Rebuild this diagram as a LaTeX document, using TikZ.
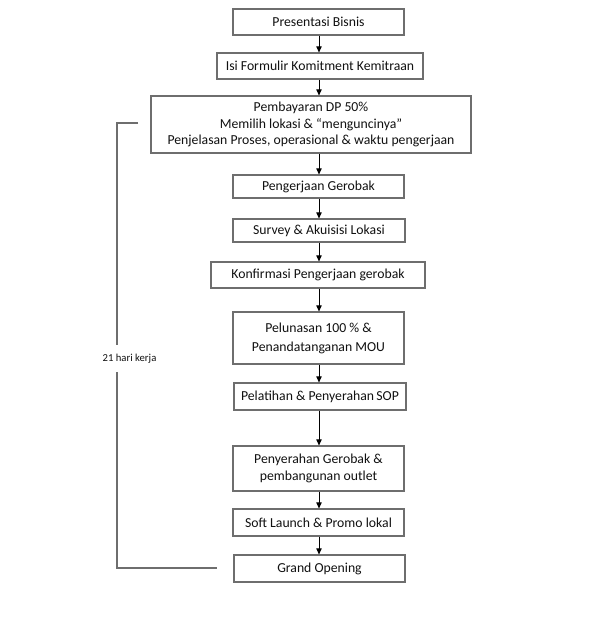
\documentclass[tikz,border=0pt]{standalone}
\usepackage{fontspec}
\setmainfont{Carlito}
\usetikzlibrary{arrows.meta}
\definecolor{boxgray}{HTML}{6E6E6E}
\definecolor{txt}{HTML}{111111}
\tikzset{
  px/.style={x=0.75pt,y=-0.75pt},
  stepbox/.style={draw=boxgray,line width=0.8pt,fill=white,inner sep=0pt,align=center,
    font=\fontsize{10.3}{12.2}\selectfont,text=txt},
  flow/.style={-{Triangle[length=4.5pt,width=4pt]},line width=0.5pt,black},
  brace/.style={draw=boxgray,line width=0.8pt},
}
\newcommand{\bx}[6]{\node[stepbox,minimum width=#4*0.75pt,minimum height=#5*0.75pt] (#1) at (#2,#3) {#6};}
\begin{document}
\begin{tikzpicture}[px]
\useasboundingbox (0,0) rectangle (600,619);
\fill[white] (0,0) rectangle (600,619);
\bx{b1}{318.5}{22}{171}{26}{Presentasi Bisnis}
\bx{b2}{320}{66}{206}{26}{Isi Formulir Komitment Kemitraan}
\bx{b3}{311}{124.5}{320}{57}{Pembayaran DP 50\%\\Memilih lokasi \& “menguncinya”\\Penjelasan Proses, operasional \& waktu pengerjaan}
\bx{b4}{318.5}{186.5}{171}{23}{Pengerjaan Gerobak}
\bx{b5}{319}{230.5}{172}{23}{Survey \& Akuisisi Lokasi}
\bx{b6}{318}{275}{214}{26}{Konfirmasi Pengerjaan gerobak}
\bx{b7}{318.5}{338}{171}{52}{Pelunasan 100 \% \&\\[2pt]Penandatanganan MOU}
\bx{b8}{320}{396.5}{172}{27}{Pelatihan \& Penyerahan\,SOP}
\bx{b9}{318.5}{468.5}{171}{45}{Penyerahan Gerobak \&\\[1pt]pembangunan outlet}
\bx{b10}{318.5}{522.5}{171}{27}{Soft Launch \& Promo lokal}
\bx{b11}{319.5}{568.5}{171}{27}{Grand Opening}
\coordinate (spine) at (319,0);
\foreach \a/\b in {b1/b2,b2/b3,b3/b4,b4/b5,b5/b6,b6/b7,b7/b8,b8/b9,b9/b10,b10/b11}
  \draw[flow] (\a.south -| spine) -- (\b.north -| spine);
\coordinate (t1) at (138,123);
\coordinate (t2) at (117,123);
\coordinate (t3) at (117,345);
\coordinate (t4) at (117,372);
\coordinate (t5) at (117,568);
\coordinate (t6) at (217,568);
\node[font=\fontsize{8}{9}\selectfont,text=txt,inner sep=0pt] (lbl) at (129.5,359) {21 hari kerja};
\draw[brace] (t1) -- (t2) -- (t3);
\draw[brace] (t4) -- (t5) -- (t6);
\end{tikzpicture}
\end{document}
